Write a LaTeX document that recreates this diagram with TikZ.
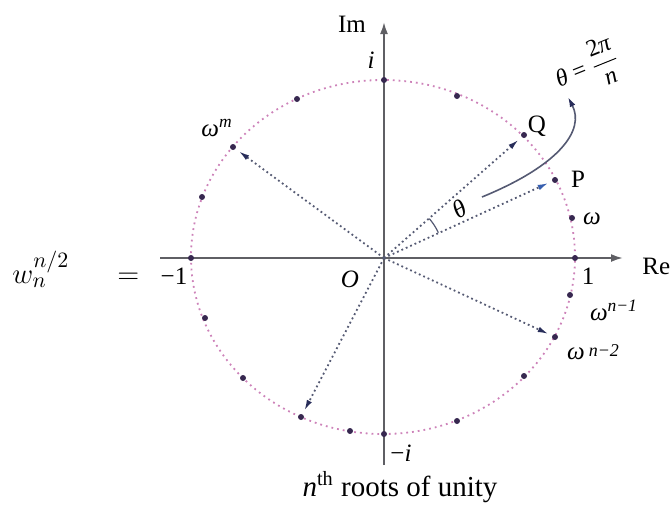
\documentclass[tikz,border=0pt]{standalone}
\usepackage[no-math]{fontspec}
\setmainfont{Liberation Serif}
\usepackage{amsmath}
\usepackage{xcolor}
\usetikzlibrary{arrows.meta, positioning}

\definecolor{xamtruc}{RGB}{95,95,100}
\definecolor{xamtia}{RGB}{85,90,115}
\definecolor{dautia}{RGB}{40,45,90}
\definecolor{xanhtia}{RGB}{55,95,175}
\definecolor{mauduong}{RGB}{205,130,185}
\definecolor{maudiem}{RGB}{55,40,80}

\tikzset{
  truc/.style={xamtruc, line width=1pt, -{Latex[length=6pt,width=4pt]}},
  tia/.style={xamtia, line width=0.9pt, dash pattern=on 0.9pt off 1.5pt,
    shorten >=3.5pt, -{Latex[length=5.5pt,width=2.8pt,color=dautia]}},
  nhan/.style={font=\fontsize{12.5}{14}\selectfont, inner sep=0pt},
  diem/.style={fill=maudiem},
}

\begin{document}
\begin{tikzpicture}[x=0.5pt, y=-0.5pt, >=latex]
    \useasboundingbox (0,0) rectangle (670,504);
    % Hệ trục tọa độ
    \coordinate (O) at (384,258);
    \coordinate (xL) at (160,258);
    \coordinate (xR) at (623,258);
    \coordinate (yB) at (384,465);
    \coordinate (yT) at (384,22);
    \draw[truc] (xL) -- (xR);
    \draw[truc] (yB) -- (yT);

    % Đường tròn đơn vị (nét chấm)
    \draw[mauduong, line width=0.9pt, dotted] (383,257) ellipse [x radius=96pt, y radius=88.5pt];

    % Các căn bậc n của đơn vị
    \foreach \ten/\x/\y in {one/575/258, w/572/218, P/555/180, Q/524/135, q2/457/96,
        i/384/80, k1/297/99, wm/233/147, k2/202/197, m1/191/258, k3/205/318,
        k4/243/378, h/301/417, k5/350/431, mi/384/434, k6/457/421, k7/524/376,
        w2/555/337, w1/570/295}
      \coordinate (\ten) at (\x,\y);
    \foreach \ten in {one, w, P, Q, q2, i, k1, wm, k2, m1, k3, k4, h, k5, mi, k6, k7, w2, w1}
      \fill[diem] (\ten) circle (1.5pt);

    % Các vectơ từ gốc O
    \draw[tia] (O) -- (Q);
    \draw[tia, -{Latex[length=5.5pt,width=2.8pt,color=xanhtia]}] (O) -- (P);
    \draw[tia] (O) -- (wm);
    \draw[tia] (O) -- (w2);
    \draw[tia] (O) -- (h);

    % Góc theta
    \draw[xamtia, line width=0.6pt] (O) ++(25:30pt) arc[start angle=25, end angle=41, radius=30pt];
    \node[nhan, rotate=30] (thLab) at (460,209) {\itshape θ};

    % Mũi tên cong tới nhãn
    \coordinate (cS) at (482,197);
    \coordinate (cE) at (568,97);
    \draw[xamtia, line width=0.8pt, -{Latex[length=5pt,width=3pt,color=dautia]}]
       (cS) .. controls (560,165) and (585,130) .. (cE);
    \node[nhan, rotate=22, font=\fontsize{12}{14}\selectfont] (thEq) at (587,68)
       {\itshape θ\upshape\ =\ $\dfrac{\text{2\itshape π}}{\text{\itshape n}}$};

    % Nhãn
    \node[nhan] (ImLab) at (352,24) {Im};
    \node[nhan, anchor=west] (ReLab) at (642,266) {Re};
    \node[nhan] (iLab) at (371,60) {\itshape i};
    \node[nhan] (wmLab) at (217,128) {\itshape ω\textsuperscript{m}};
    \node[nhan] (QLab) at (537,126) {Q};
    \node[nhan] (PLab) at (578,179) {P};
    \node[nhan] (wLab) at (592,219) {\itshape ω};
    \node[nhan] (oneLab) at (588,276) {1};
    \node[nhan] (OLab) at (350,279) {\itshape O};
    \node[nhan] (m1Lab) at (174,276) {−1};
    \node[nhan] (miLab) at (401,453) {−\itshape i};
    \node[nhan] (w1Lab) at (614,310) {\itshape ω\textsuperscript{n−1}};
    \node[nhan] (w2Lab) at (593,352) {\itshape ω\,\raisebox{0.25ex}{\fontsize{9}{10}\selectfont n−2}};
    \node[nhan, font=\fontsize{14.5}{16}\selectfont] (capLab) at (400,487)
       {\itshape n\upshape\textsuperscript{th} roots of unity};

    % Vế trái
    \node[inner sep=0pt, anchor=base west, font=\fontsize{15}{17}\selectfont] (wnLab) at (12,283)
       {$w_n^{n/2}\hspace{20pt}=$};
\end{tikzpicture}
\end{document}
